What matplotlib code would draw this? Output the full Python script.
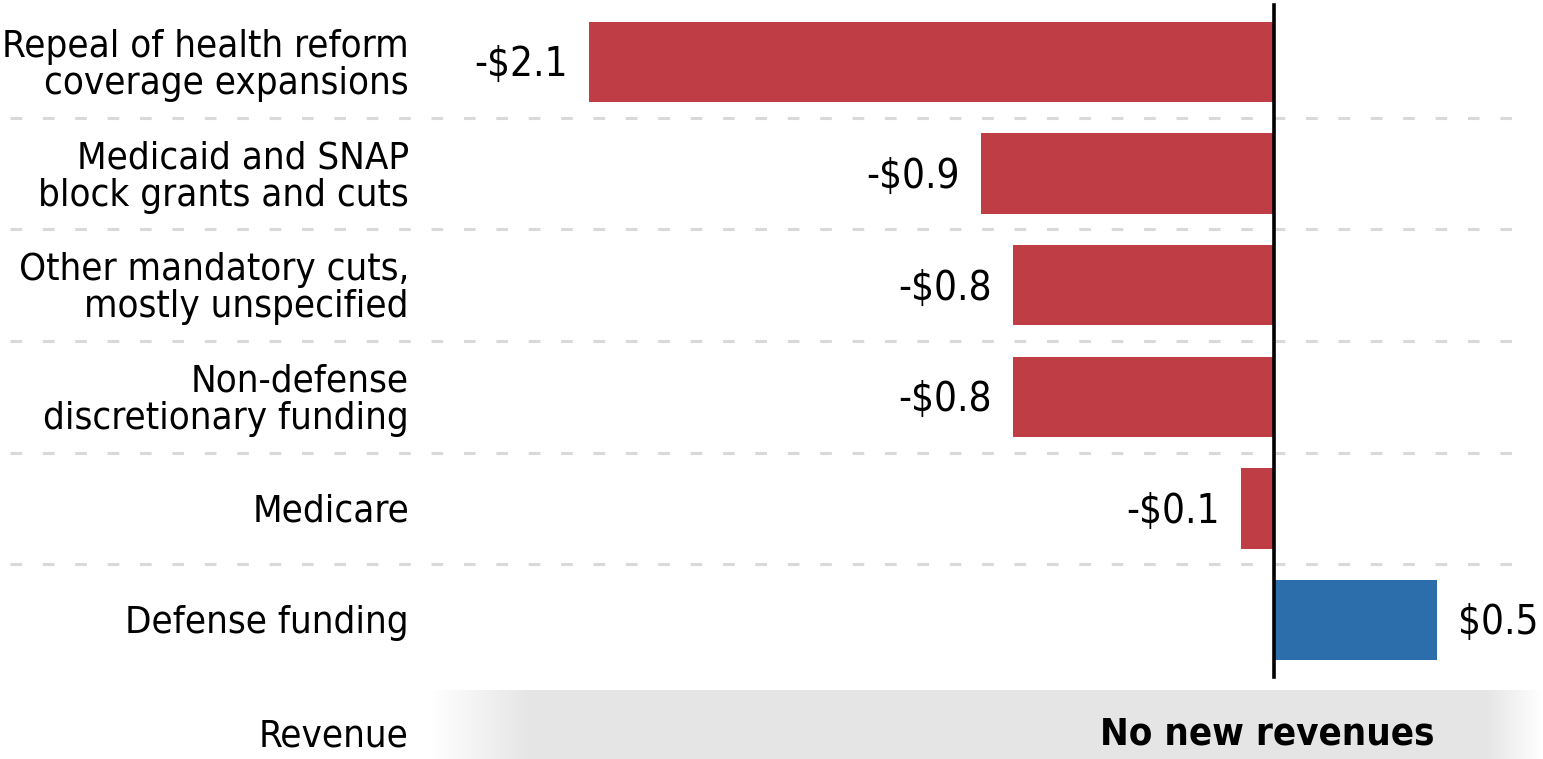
import numpy as np
import matplotlib.pyplot as plt

# values in $ trillions
categories = [
    "Repeal of health reform\ncoverage expansions",
    "Medicaid and SNAP\nblock grants and cuts",
    "Other mandatory cuts,\nmostly unspecified",
    "Non-defense\ndiscretionary funding",
    "Medicare",
    "Defense funding",
]
values = [-2.1, -0.9, -0.8, -0.8, -0.1, 0.5]
value_labels = ["-$2.1", "-$0.9", "-$0.8", "-$0.8", "-$0.1", "$0.5"]
revenue_label = "Revenue"
revenue_text = "No new revenues"

RED = "#bf3d45"
BLUE = "#2b6eab"
FONT = ["Liberation Sans Narrow", "DejaVu Sans"]
plt.rcParams['font.family'] = FONT
plt.rcParams['font.stretch'] = "condensed"

fig = plt.figure(figsize=(15.43, 7.59), dpi=100)
ax = fig.add_axes([0, 0, 1, 1])

# pixel layout -> data scale
px_per_unit = 326.0
zero_px = 1274.0
row_px = 111.6
first_row_px = 62.0
xlim = (-zero_px / px_per_unit, (1543 - zero_px) / px_per_unit)
ylim = ((759 - first_row_px) / row_px, -first_row_px / row_px)
ax.axis("off")

y = np.arange(len(categories))
colors = [RED if v < 0 else BLUE for v in values]
ax.barh(y, values, height=0.72, color=colors, zorder=2)

# dashed separators between rows
for i in range(len(categories) - 1):
    ax.plot([-3.877, 0.79], [i + 0.5, i + 0.5], color="#d9d9d9", lw=2.2,
            ls=(0, (3.8, 6.8)), zorder=1, solid_capstyle="butt")

ax.plot([0, 0], [-0.51, len(categories) - 0.49], color="black", lw=2.6, zorder=3)

label_x = -(zero_px - 409) / px_per_unit
for i, c in enumerate(categories):
    ax.text(label_x, y[i] + 0.03, c, ha="right", va="center", fontsize=27.5,
            linespacing=1.06)

for i, (v, lab) in enumerate(zip(values, value_labels)):
    off = 0.065
    if v < 0:
        ax.text(v - off, y[i] + 0.03, lab, ha="right", va="center", fontsize=29)
    else:
        ax.text(v + off, y[i] + 0.03, lab, ha="left", va="center", fontsize=29)

# revenue row with soft gray band
ry = len(categories)
x0 = -(zero_px - 430) / px_per_unit
x1 = (1543 - zero_px) / px_per_unit
n = 400
t = np.linspace(0, 1, n)
alpha = np.clip(np.minimum(t / 0.09, (1 - t) / 0.05), 0, 1)
grad = np.zeros((1, n, 4))
grad[..., :3] = 0.9
grad[..., 3] = alpha
ax.imshow(grad, extent=[x0, x1, ry + 0.4, ry - 0.37], aspect="auto",
          interpolation="bilinear", zorder=0)
ax.text(label_x, ry + 0.04, revenue_label, ha="right", va="center", fontsize=27.5)
ax.text(-0.02, ry + 0.03, revenue_text, ha="center", va="center", fontsize=27.5,
        fontweight="bold")

ax.set_xlim(*xlim)
ax.set_ylim(*ylim)

fig.savefig("out.png", dpi=100)
